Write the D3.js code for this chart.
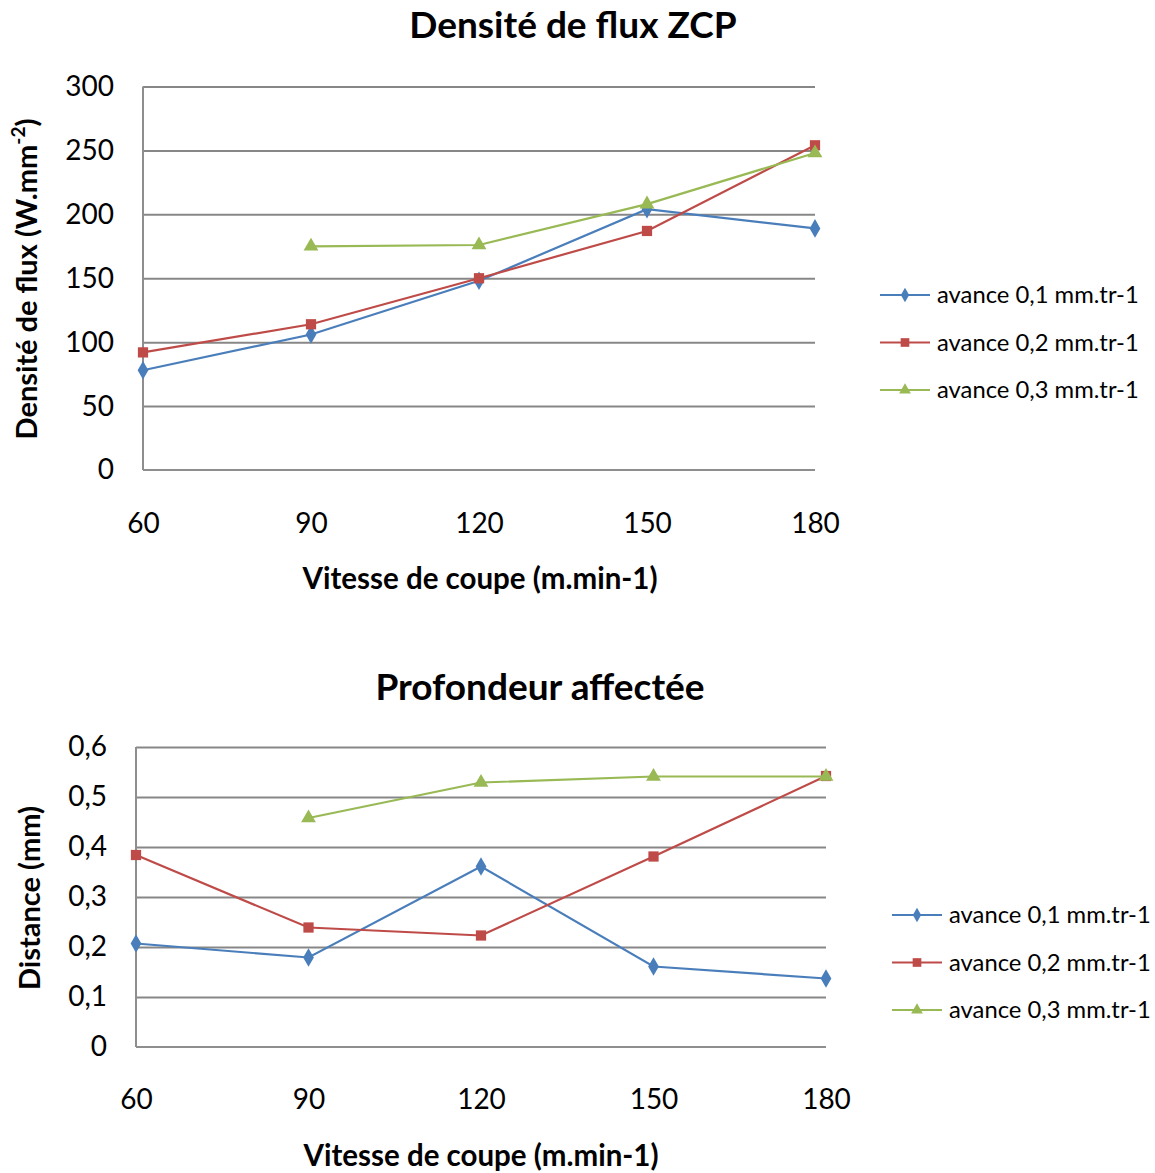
<!DOCTYPE html>
<html><head><meta charset="utf-8">
<script src="https://cdn.jsdelivr.net/npm/d3@7"></script>
<style>body{margin:0;background:#fff;} svg{display:block;font-family:Lato,"Open Sans",sans-serif;}</style>
</head><body>
<svg id="c" width="1155" height="1173"></svg>
<script>
const categories = [60, 90, 120, 150, 180];
const seriesNames = ["avance 0,1 mm.tr-1", "avance 0,2 mm.tr-1", "avance 0,3 mm.tr-1"];
const colors = ["#4A7EBB", "#BE4B48", "#98B954"];
const markers = [d3.symbolDiamond, d3.symbolSquare, d3.symbolTriangle];

// Chart 1: Densité de flux ZCP
const flux01 = [78, 106, 148, 204, 189];
const flux02 = [92, 114, 150, 187, 254];
const flux03 = [null, 175, 176, 208, 248];
const fluxTicks = [0, 50, 100, 150, 200, 250, 300];

// Chart 2: Profondeur affectée
const prof01 = [0.207, 0.179, 0.361, 0.161, 0.137];
const prof02 = [0.384, 0.239, 0.223, 0.381, 0.542];
const prof03 = [null, 0.458, 0.529, 0.541, 0.541];
const profTicks = [0, 0.1, 0.2, 0.3, 0.4, 0.5, 0.6];

const svg = d3.select("#c");

function drawChart(cfg) {
  const g = svg.append("g");
  const x = d3.scaleLinear().domain([60, 180]).range([cfg.x0, cfg.x1]);
  const y = d3.scaleLinear().domain([0, cfg.ymax]).range([cfg.y0, cfg.y1]);

  // gridlines
  const grid = d3.axisLeft(y).tickValues(cfg.ticks.filter(t => t > 0)).tickSize(-(cfg.x1 - cfg.x0)).tickFormat("");
  const gg = g.append("g").attr("transform", `translate(${cfg.x0},0)`).call(grid);
  gg.select(".domain").remove();
  gg.selectAll("line").attr("stroke", "#878787").attr("stroke-width", 2);

  // y axis labels
  const ya = d3.axisLeft(y).tickValues(cfg.ticks).tickSize(0).tickPadding(cfg.ypad).tickFormat(cfg.fmt);
  const yg = g.append("g").attr("transform", `translate(${cfg.x0},0)`).call(ya);
  yg.select(".domain").remove();
  yg.selectAll("text").attr("font-size", 28).attr("font-family", "Lato").attr("fill", "#000");

  // x axis labels
  const xa = d3.axisBottom(x).tickValues(categories).tickSize(0).tickPadding(cfg.xpad).tickFormat(d3.format("d"));
  const xg = g.append("g").attr("transform", `translate(0,${cfg.y0})`).call(xa);
  xg.select(".domain").remove();
  xg.selectAll("text").attr("font-size", 28).attr("font-family", "Lato").attr("fill", "#000");

  // axis lines
  g.append("line").attr("x1", cfg.x0).attr("x2", cfg.x0).attr("y1", cfg.y1).attr("y2", cfg.y0)
    .attr("stroke", "#8e8e8e").attr("stroke-width", 2);
  g.append("line").attr("x1", cfg.x0).attr("x2", cfg.x1).attr("y1", cfg.y0).attr("y2", cfg.y0)
    .attr("stroke", "#8e8e8e").attr("stroke-width", 2);

  // series
  const line = d3.line().defined(d => d.v != null).x(d => x(d.c)).y(d => y(d.v));
  cfg.series.forEach((vals, i) => {
    const data = categories.map((c, j) => ({c, v: vals[j]}));
    g.append("path").datum(data).attr("d", line).attr("fill", "none")
      .attr("stroke", colors[i]).attr("stroke-width", 2.2);
    g.selectAll(null).data(data.filter(d => d.v != null)).enter().append("path")
      .attr("d", d3.symbol().type(markers[i]).size(i === 0 ? 100 : i === 1 ? 105 : 95))
      .attr("transform", d => `translate(${x(d.c)},${y(d.v)})`)
      .attr("fill", colors[i]);
  });

  // title
  g.append("text").attr("x", cfg.tx).attr("y", cfg.ty).attr("text-anchor", "middle")
    .attr("font-size", 37).attr("font-weight", "bold").text(cfg.title);
  // x title
  g.append("text").attr("x", cfg.xtx).attr("y", cfg.xty).attr("text-anchor", "middle")
    .attr("font-size", 29.5).attr("font-weight", "bold").text("Vitesse de coupe (m.min-1)");
  // y title
  const yt = g.append("text").attr("transform", `translate(${cfg.ytx},${cfg.yty}) rotate(-90)`)
    .attr("text-anchor", "middle").attr("font-size", 29).attr("font-weight", "bold");
  cfg.ytitle(yt);

  // legend
  seriesNames.forEach((n, i) => {
    const ly = cfg.ly + i * cfg.lstep;
    g.append("line").attr("x1", cfg.lx).attr("x2", cfg.lx + 50).attr("y1", ly).attr("y2", ly)
      .attr("stroke", colors[i]).attr("stroke-width", 2.2);
    g.append("path").attr("d", d3.symbol().type(markers[i]).size(i === 1 ? 75 : 60))
      .attr("transform", `translate(${cfg.lx + 25},${ly})`).attr("fill", colors[i]);
    g.append("text").attr("x", cfg.lx + 57).attr("y", ly + 8).attr("font-size", 23.8).text(n);
  });
}

drawChart({
  x0: 143, x1: 815, y0: 470, y1: 86.5, ymax: 300, ticks: fluxTicks, fmt: d3.format("d"),
  ypad: 29, xpad: 43,
  series: [flux01, flux02, flux03],
  title: "Densité de flux ZCP", tx: 573, ty: 38,
  xtx: 480, xty: 589, ytx: 37, yty: 279,
  ytitle: t => { t.append("tspan").text("Densité de flux (W.mm"); t.append("tspan").attr("font-size", 19).attr("dy", -12).text("-2"); t.append("tspan").attr("dy", 12).text(")"); },
  lx: 880, ly: 295, lstep: 47.5
});

drawChart({
  x0: 136, x1: 826, y0: 1047, y1: 747, ymax: 0.6, ticks: profTicks, fmt: d => d === 0 ? "0" : d3.format(".1f")(d).replace(".", ","),
  ypad: 29, xpad: 42,
  series: [prof01, prof02, prof03],
  title: "Profondeur affectée", tx: 540, ty: 700,
  xtx: 481, xty: 1166, ytx: 40, yty: 898,
  ytitle: t => t.text("Distance (mm)"),
  lx: 892, ly: 915, lstep: 47.5
});
</script>
</body></html>
